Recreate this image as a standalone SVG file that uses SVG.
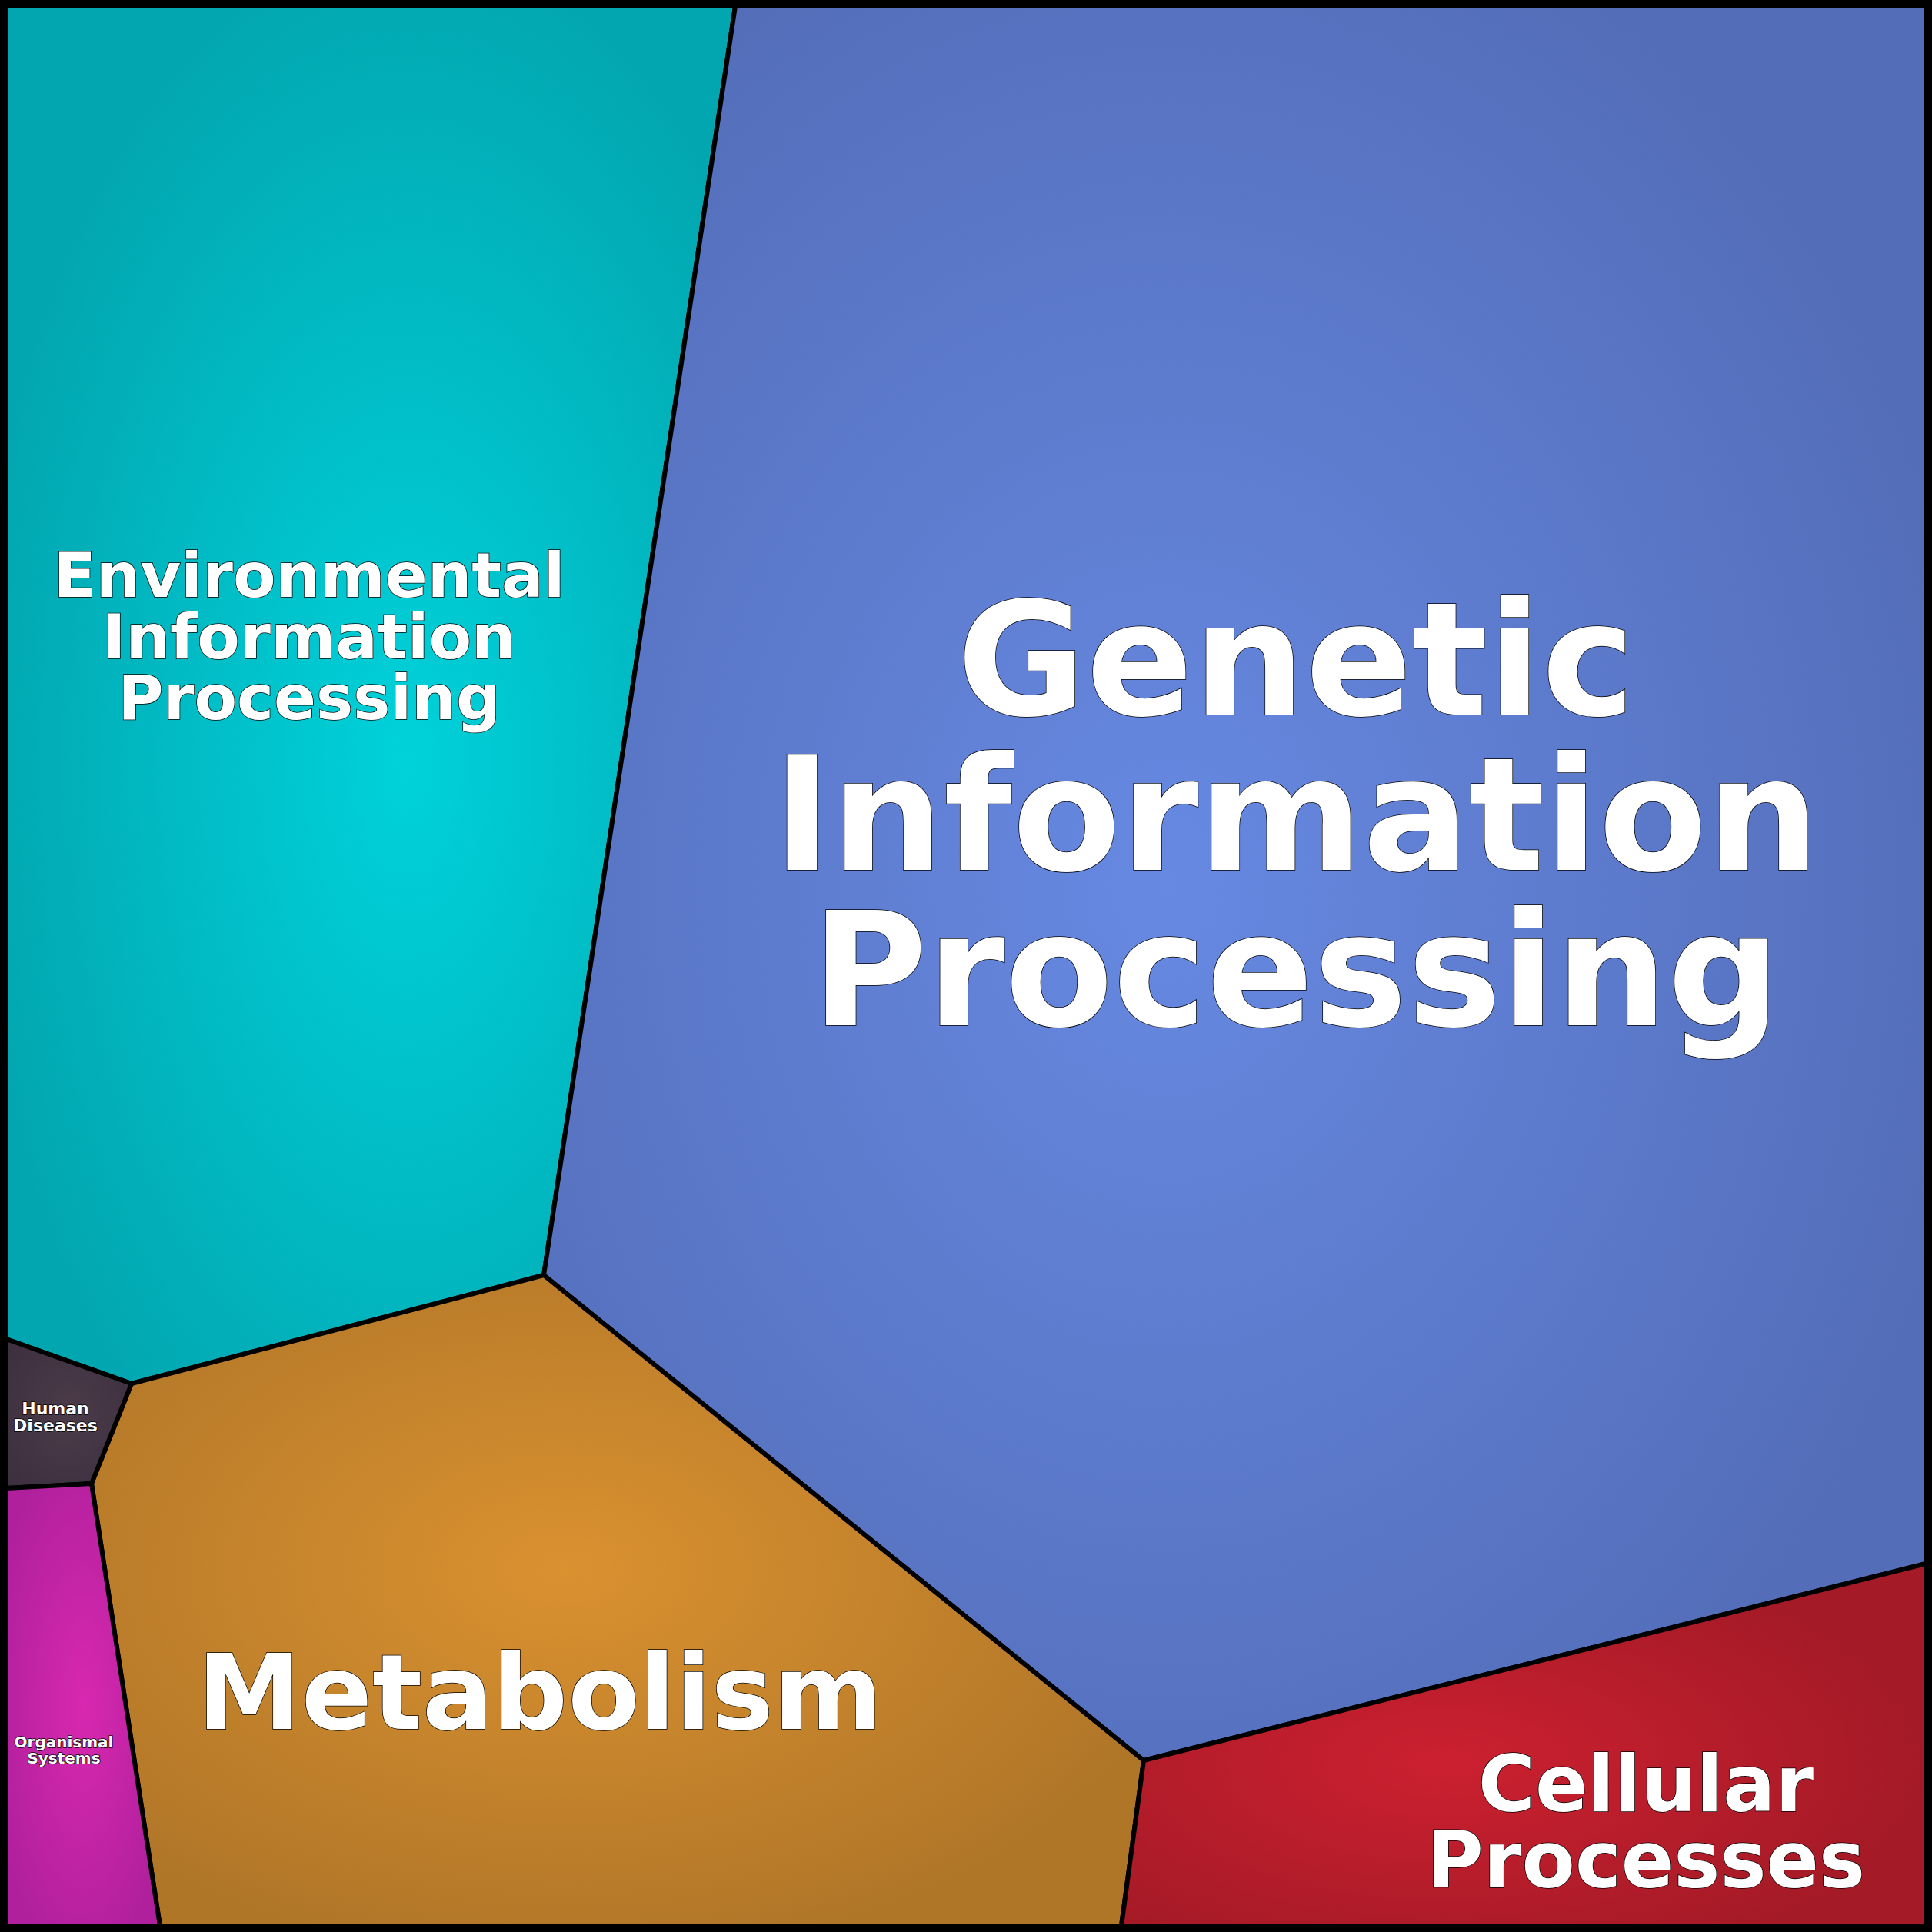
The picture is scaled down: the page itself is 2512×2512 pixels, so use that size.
<svg xmlns="http://www.w3.org/2000/svg" width="2512" height="2512" viewBox="0 0 2512 2512">
<style>
.cell{stroke:#000;stroke-width:6;stroke-linejoin:round}
text{font-family:"DejaVu Sans",sans-serif;font-weight:bold;fill:#fff;stroke:#000;stroke-width:1.5;paint-order:stroke;text-anchor:middle}
</style>
<defs>
<radialGradient id="gEnv" cx="0.55" cy="0.55" r="0.6"><stop offset="0" stop-color="#00d2da"/><stop offset="1" stop-color="#02a6b0"/></radialGradient>
<radialGradient id="gGen" cx="0.45" cy="0.5" r="0.6"><stop offset="0" stop-color="#6789e2"/><stop offset="1" stop-color="#536db8"/></radialGradient>
<radialGradient id="gMet" cx="0.45" cy="0.45" r="0.6"><stop offset="0" stop-color="#da9130"/><stop offset="1" stop-color="#b07628"/></radialGradient>
<radialGradient id="gCel" cx="0.4" cy="0.55" r="0.6"><stop offset="0" stop-color="#cc2030"/><stop offset="1" stop-color="#a41a26"/></radialGradient>
<radialGradient id="gHum" cx="0.5" cy="0.5" r="0.6"><stop offset="0" stop-color="#4c3c4a"/><stop offset="1" stop-color="#3e3040"/></radialGradient>
<radialGradient id="gOrg" cx="0.5" cy="0.5" r="0.6"><stop offset="0" stop-color="#d828b0"/><stop offset="1" stop-color="#b0209c"/></radialGradient>
</defs>
<rect x="0" y="0" width="2512" height="2512" fill="#000"/>
<g id="env"><polygon class="cell" fill="url(#gEnv)" points="8,8 956,8 707,1658 171,1799 8,1741"/>
<text font-size="81"><tspan x="402" y="776">Environmental</tspan><tspan x="402" y="856">Information</tspan><tspan x="402" y="935">Processing</tspan></text></g>
<g id="gen"><polygon class="cell" fill="url(#gGen)" points="956,8 2504,8 2504,2033 1487,2289 707,1658"/>
<text font-size="205"><tspan x="1685" y="929">Genetic</tspan><tspan x="1685" y="1131">Information</tspan><tspan x="1685" y="1333">Processing</tspan></text></g>
<g id="met"><polygon class="cell" fill="url(#gMet)" points="707,1658 1487,2289 1458,2504 208,2504 119,1929 171,1799"/>
<text font-size="136" x="702" y="2248">Metabolism</text></g>
<g id="cel"><polygon class="cell" fill="url(#gCel)" points="1487,2289 2504,2033 2504,2504 1458,2504"/>
<text font-size="101"><tspan x="2140" y="2355">Cellular</tspan><tspan x="2140" y="2454">Processes</tspan></text></g>
<g id="hum"><polygon class="cell" fill="url(#gHum)" points="8,1741 171,1799 119,1929 8,1935"/>
<text font-size="22" stroke-width="0.8"><tspan x="72" y="1839">Human</tspan><tspan x="72" y="1861">Diseases</tspan></text></g>
<g id="org"><polygon class="cell" fill="url(#gOrg)" points="8,1935 119,1929 208,2504 8,2504"/>
<text font-size="20" stroke-width="0.8"><tspan x="83" y="2272">Organismal</tspan><tspan x="83" y="2293">Systems</tspan></text></g>
<g id="connectors"/>
<rect x="5" y="5" width="2502" height="2502" fill="none" stroke="#000" stroke-width="12"/>
</svg>
